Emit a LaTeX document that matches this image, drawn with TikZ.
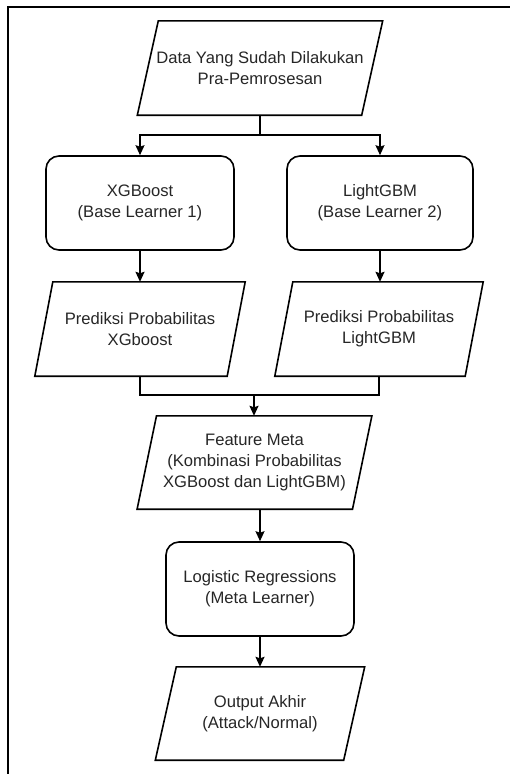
\documentclass[tikz,border=0pt]{standalone}
\usepackage{fontspec}
\setmainfont{Liberation Sans}
\usetikzlibrary{arrows.meta}
\begin{document}
\begin{tikzpicture}[x=1pt,y=-1pt,
  txt/.style={font=\fontsize{16.6}{21}\selectfont, text=black!85, align=center, inner sep=0pt},
  rbox/.style={txt, draw, line width=1.6pt, rounded corners=13pt, minimum width=188pt, minimum height=94pt},
  para/.style={txt, minimum height=94pt},
  edge/.style={line width=1.6pt, -{Stealth[length=10pt,width=9pt,inset=1.5pt]}},
  plain/.style={line width=1.6pt},
  outline/.style={line width=1.6pt, line join=miter}
]
\useasboundingbox (0,0) rectangle (510,774);
\draw[line width=2pt] (7.7,774) -- (7.7,7) -- (510,7);

\node[para, minimum width=224pt] (d) at (260,68) {Data Yang Sudah Dilakukan\\Pra-Pemrosesan};
\node[rbox] (x1) at (140,203) {XGBoost\\(Base Learner 1)};
\node[rbox, minimum width=186pt] (x2) at (380,203) {LightGBM\\(Base Learner 2)};
\node[para, minimum width=192pt] (p1) at (140,329) {Prediksi Probabilitas\\XGboost};
\node[para, minimum width=190pt] (p2) at (379,329) {Prediksi Probabilitas\\LightGBM};
\node[para, minimum width=215pt, minimum height=93pt] (f) at (254.5,462.5) {Feature Meta\\(Kombinasi Probabilitas\\XGBoost dan LightGBM)};
\node[rbox] (l) at (260,589) {Logistic Regressions\\(Meta Learner)};
\node[para, minimum width=188pt, minimum height=93pt] (o) at (260,713.5) {Output Akhir\\(Attack/Normal)};

\foreach \n/\s in {d/10.5,p1/9,p2/9,f/9.7,o/10.5}
  \draw[outline] ([xshift=\s pt]\n.north west) -- ([xshift=\s pt]\n.north east)
    -- ([xshift=-\s pt]\n.south east) -- ([xshift=-\s pt]\n.south west) -- cycle;

\coordinate (split) at ([yshift=-20pt]d.south);
\draw[plain] (d.south) -- (split);
\draw[edge] (split) -| (x1.north);
\draw[edge] (split) -| (x2.north);

\draw[edge] (x1.south) -- (p1.north);
\draw[edge] (x2.south) -- (x2.south |- p2.north);

\coordinate (join) at (254,395);
\draw[plain] (p1.south) -- (p1.south |- join) -- (p2.south |- join) -- (p2.south);
\draw[edge] (join) -- (join |- f.north);

\draw[edge] (l.north |- f.south) -- (l.north);
\draw[edge] (l.south) -- (o.north);
\end{tikzpicture}
\end{document}
